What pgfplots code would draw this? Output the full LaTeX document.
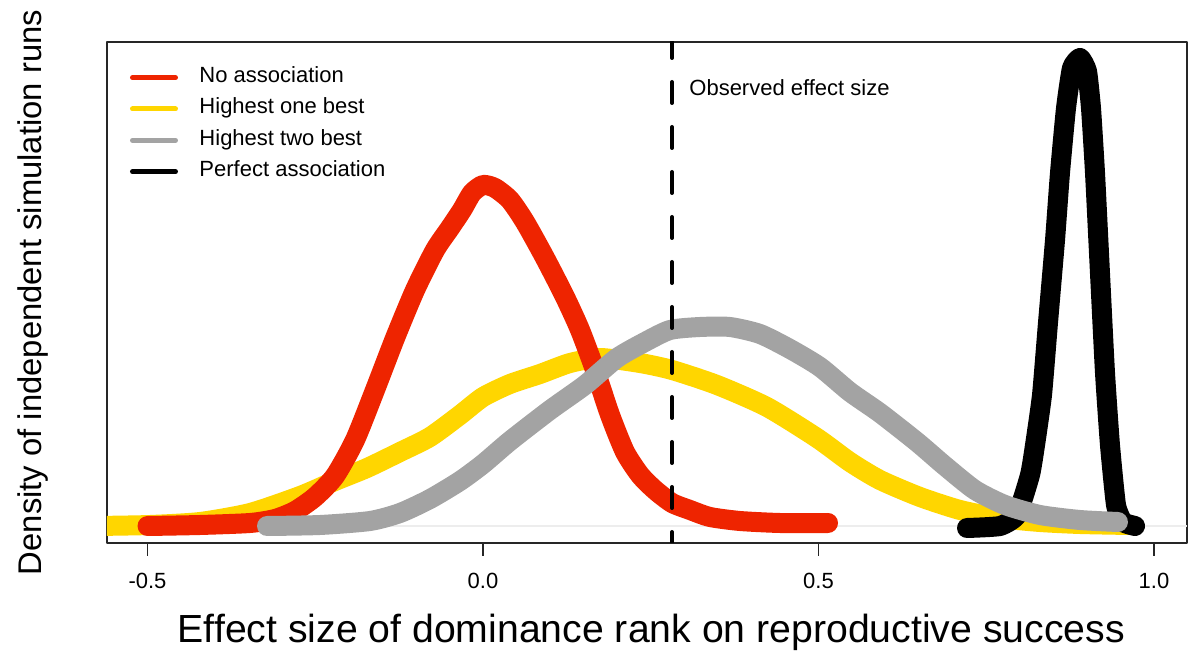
\documentclass[border=0pt]{standalone}
\usepackage{fontspec}
\setmainfont{Liberation Sans}
\usepackage{pgfplots}
\pgfplotsset{compat=1.18}
\definecolor{cred}{RGB}{238,36,0}
\definecolor{cyel}{RGB}{255,214,0}
\definecolor{cgray}{RGB}{163,163,163}
\begin{document}
\begin{tikzpicture}
\useasboundingbox (-53.5pt,-54.5pt) rectangle (540.5pt,271.5pt);
\begin{axis}[
  at={(0pt,0pt)}, anchor=south west,
  scale only axis, width=540pt, height=250.5pt,
  xmin=-0.5604, xmax=1.0492, ymin=-17, ymax=484,
  axis line style={line width=0.75pt, black!85},
  xtick={-0.5,0,0.5,1}, xticklabels={-0.5,0.0,0.5,1.0},
  xtick pos=bottom, tick align=outside, major tick length=6.5pt,
  tick style={line width=0.75pt, black!85},
  ytick=\empty,
  xticklabel style={font=\fontsize{11}{13}\selectfont, anchor=center, yshift=-12.5pt},
  xlabel={Effect size of dominance rank on reproductive success},
  xlabel style={at={(axis description cs:0.504,-0.1776)}, anchor=center, font=\fontsize{19.6}{22}\selectfont},
  ylabel={Density of independent simulation runs},
  ylabel style={at={(axis description cs:-0.0685,0.5)}, anchor=center, font=\fontsize{16.4}{19}\selectfont},
  legend style={at={(rel axis cs:0,1)}, anchor=north west, xshift=11.5pt, yshift=-12.35pt,
    draw=none, fill=none, inner sep=0pt, outer sep=0pt, row sep=4.65pt,
    font=\fontsize{11}{13}\selectfont,
    nodes={inner sep=0pt, text height=8pt, text depth=3pt}},
  legend cell align=left,
  legend image code/.code={\draw[#1] (1.25pt,0pt) -- (22.75pt,0pt); \path (33.5pt,0pt);},
  line join=round,
]
\addlegendimage{cred, line width=2.5pt, line cap=round}
\addlegendentry{No association}
\addlegendimage{cyel, line width=2.5pt, line cap=round}
\addlegendentry{Highest one best}
\addlegendimage{cgray, line width=2.5pt, line cap=round}
\addlegendentry{Highest two best}
\addlegendimage{black, line width=2.5pt, line cap=round}
\addlegendentry{Perfect association}

% baseline
\addplot[forget plot, black!7, line width=0.6pt] coordinates {(-0.5604,0) (1.0492,0)};

% Highest one best
\addplot[forget plot, cyel, line width=10pt, line cap=round, smooth, tension=0.4] coordinates {
(-0.578,0) (-0.4963,1) (-0.4218,4) (-0.3472,13) (-0.2727,30) (-0.2206,45) (-0.1729,58)
(-0.1237,74) (-0.0790,89) (-0.0343,111) (0,129) (0.0402,142) (0.0849,152) (0.1297,163)
(0.1744,168) (0.2340,163) (0.2817,156) (0.3487,141) (0.4232,119) (0.4978,88) (0.5469,64)
(0.5917,46) (0.6513,29) (0.7109,16) (0.7705,8) (0.8301,4) (0.8897,2) (0.9642,1)};

% Perfect association
\addplot[forget plot, black, line width=10pt, line cap=round, smooth, tension=0.3] coordinates {
(0.7213,-2) (0.7705,0) (0.7958,11) (0.8152,51) (0.8227,81) (0.8331,131) (0.8420,203)
(0.8525,286) (0.8599,353) (0.8689,418) (0.8778,458) (0.8897,468) (0.9001,455) (0.9061,418)
(0.9121,353) (0.9195,253) (0.9270,153) (0.9344,81) (0.9434,21) (0.9538,4) (0.9717,0)};

% No association
\addplot[forget plot, cred, line width=10pt, line cap=round, smooth, tension=0.4] coordinates {
(-0.5,0) (-0.4218,1) (-0.3472,3) (-0.3100,7) (-0.2802,15) (-0.2504,29) (-0.2206,50)
(-0.1908,86) (-0.1610,136) (-0.1311,188) (-0.1013,236) (-0.0715,276) (-0.0492,298)
(-0.0313,316) (-0.0164,333) (0,341) (0.0179,338) (0.0402,326) (0.0626,304) (0.0924,268)
(0.1222,229) (0.1446,196) (0.1669,156) (0.1893,111) (0.2116,74) (0.2340,51) (0.2563,36)
(0.2817,23) (0.3085,16) (0.3383,9) (0.3830,5) (0.4426,3) (0.5142,3)};

% Highest two best
\addplot[forget plot, cgray, line width=10pt, line cap=round, smooth, tension=0.4] coordinates {
(-0.3219,0) (-0.2429,1) (-0.1684,5) (-0.1237,13) (-0.0790,27) (-0.0343,45) (0,62)
(0.0402,85) (0.0999,116) (0.1520,141) (0.1997,168) (0.2414,184) (0.2787,196) (0.3234,199)
(0.3681,199) (0.4128,192) (0.4575,177) (0.5022,159) (0.5469,134) (0.5917,113) (0.6468,84)
(0.6885,60) (0.7332,36) (0.7779,21) (0.8301,11) (0.8897,6) (0.9463,4)};

% observed effect size
\addplot[forget plot, black, line width=2pt, line cap=round, dash pattern=on 10.5pt off 12pt, dash phase=2.5pt] coordinates {(0.2817,484) (0.2817,-17)};

\node[anchor=west, inner sep=0pt, font=\fontsize{11}{13}\selectfont] at (axis cs:0.307,438) {Observed effect size};
\end{axis}
\end{tikzpicture}
\end{document}
